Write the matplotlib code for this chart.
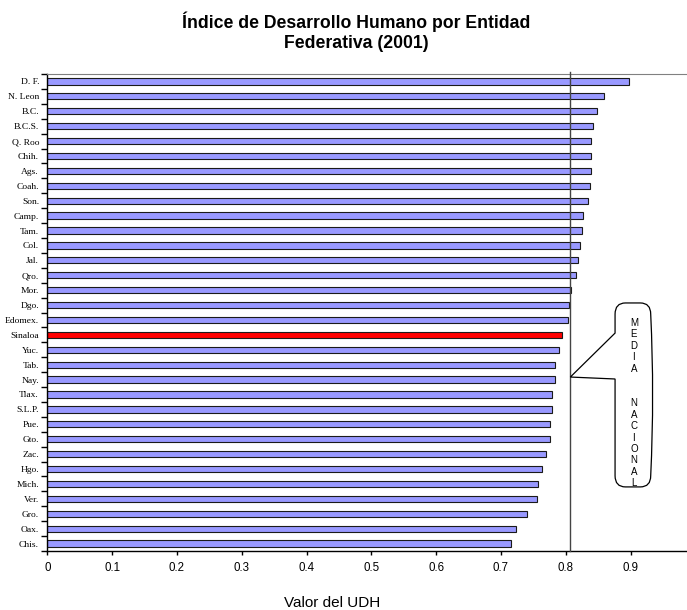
import numpy as np
import matplotlib.pyplot as plt
from matplotlib.path import Path
from matplotlib.patches import PathPatch

estados = ['D. F.', 'N. Leon', 'B.C.', 'B.C.S.', 'Q. Roo', 'Chih.', 'Ags.', 'Coah.',
           'Son.', 'Camp.', 'Tam.', 'Col.', 'Jal.', 'Qro.', 'Mor.', 'Dgo.', 'Edomex.',
           'Sinaloa', 'Yuc.', 'Tab.', 'Nay.', 'Tlax.', 'S.L.P.', 'Pue.', 'Gto.', 'Zac.',
           'Hgo.', 'Mich.', 'Ver.', 'Gro.', 'Oax.', 'Chis.']
idh = [0.898, 0.859, 0.848, 0.842, 0.839, 0.839, 0.839, 0.837,
       0.835, 0.827, 0.825, 0.822, 0.819, 0.816, 0.808, 0.805, 0.803,
       0.794, 0.789, 0.784, 0.783, 0.779, 0.779, 0.776, 0.775, 0.770,
       0.763, 0.757, 0.755, 0.740, 0.723, 0.715]
xticks = [0, 0.1, 0.2, 0.3, 0.4, 0.5, 0.6, 0.7, 0.8, 0.9]
xticklabels = ['0', '0.1', '0.2', '0.3', '0.4', '0.5', '0.6', '0.7', '0.8', '0.9']
media_nacional = 0.807
destacado = 'Sinaloa'

fig = plt.figure(figsize=(6.87, 6.10), dpi=100)
ax = fig.add_axes([0.0689, 0.0967, 0.9311, 0.7820])

pos = np.arange(len(estados))
colores = ['#FF0000' if e == destacado else '#9999FF' for e in estados]
ax.barh(pos, idh, height=0.42, color=colores, edgecolor='#1a1a1a', linewidth=0.8, zorder=2)
ax.axvline(media_nacional, ymin=0, ymax=1.005, color='#444444', lw=1.0, zorder=3, clip_on=False)

ax.set_ylim(len(estados) - 0.5, -0.5)
ax.set_xlim(0, 0.987)
ax.set_yticks(pos)
ax.set_yticklabels(estados, fontfamily='Liberation Serif', fontsize=6.8)
ax.set_yticks(np.arange(len(estados) + 1) - 0.5, minor=True)
ax.tick_params(axis='y', which='major', length=0, pad=6)
ax.tick_params(axis='y', which='minor', length=4, width=1)
ax.set_xticks(xticks)
ax.set_xticklabels(xticklabels, fontfamily='Liberation Sans', fontsize=8.3)
ax.tick_params(axis='x', length=3, width=1, pad=5)

ax.spines['right'].set_visible(False)
ax.spines['top'].set_color('#808080')
for s in ['left', 'bottom']:
    ax.spines[s].set_color('black')
    ax.spines[s].set_linewidth(1)

# globo "MEDIA NACIONAL"
x0, x1, y0, y1 = 0.876, 0.931, 14.86, 27.2
rx, ry = 0.016, 0.75
ya, yb, ytip = 16.88, 19.96, 19.83
verts = [(x0 + rx, y0), (x1 - rx, y0),
         (x1, y0), (x1, y0 + ry),
         (x1 + 0.006, (y0 + y1) / 2), (x1, y1 - ry),
         (x1, y1), (x1 - rx, y1),
         (x0 + rx, y1),
         (x0, y1), (x0, y1 - ry),
         (x0, yb), (media_nacional, ytip), (x0, ya), (x0, y0 + ry),
         (x0, y0), (x0 + rx, y0), (x0 + rx, y0)]
codes = [Path.MOVETO, Path.LINETO,
         Path.CURVE3, Path.CURVE3,
         Path.CURVE3, Path.CURVE3,
         Path.CURVE3, Path.CURVE3,
         Path.LINETO,
         Path.CURVE3, Path.CURVE3,
         Path.LINETO, Path.LINETO, Path.LINETO, Path.LINETO,
         Path.CURVE3, Path.CURVE3, Path.CLOSEPOLY]
globo = PathPatch(Path(verts, codes), facecolor='white', edgecolor='black', lw=0.9,
                  zorder=4, clip_on=False)
ax.add_patch(globo)
t = ax.text(0.905, 15.85, 'M\nE\nD\nI\nA\n\n\nN\nA\nC\nI\nO\nN\nA\nL', ha='center', va='top',
            fontsize=7, fontfamily='Liberation Sans', linespacing=1.185, zorder=5)
t.set_clip_path(globo)

fig.text(0.518, 1 - 22 / 610, 'Índice de Desarrollo Humano por Entidad', ha='center',
         va='center', fontsize=12.7, fontweight='bold', fontfamily='Liberation Sans')
fig.text(0.518, 1 - 43 / 610, 'Federativa (2001)', ha='center', va='center',
         fontsize=12.7, fontweight='bold', fontfamily='Liberation Sans')
fig.text(332 / 687, 1 - 603 / 610, 'Valor del UDH', ha='center', va='center',
         fontsize=11, fontfamily='Liberation Sans')

fig.savefig('out.png', dpi=100)
